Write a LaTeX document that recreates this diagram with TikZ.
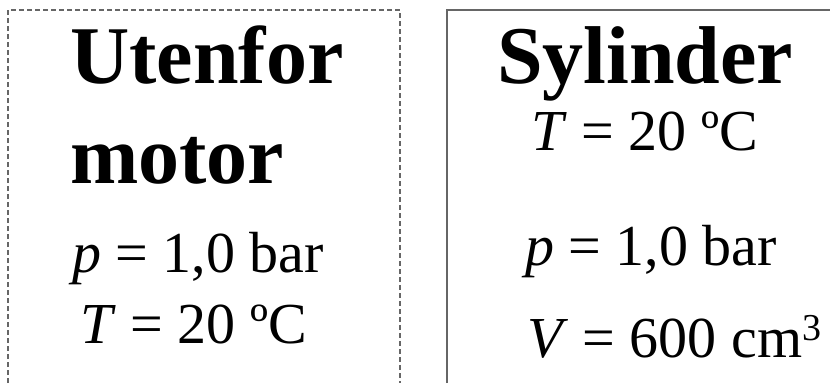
\documentclass[tikz,border=0pt]{standalone}
\usepackage{fontspec}
\setmainfont{Liberation Serif}
\usetikzlibrary{positioning}

\newcommand{\supthree}{\raisebox{17pt}{\fontsize{38}{40}\selectfont 3}}

\tikzset{
  boxline/.style={draw=black!60, line width=2.4pt},
  head/.style={anchor=base west, inner sep=0pt, font=\fontsize{82}{90}\selectfont\bfseries},
  val/.style={anchor=base west, inner sep=0pt, font=\fontsize{58}{64}\selectfont},
}

\begin{document}
\begin{tikzpicture}[x=1pt, y=-1pt]
  \useasboundingbox (0,0) rectangle (830,383);
  % outside the engine (dashed, open at the bottom)
  \draw[boxline, dash pattern=on 5pt off 3pt] (8,383) -- (8,10) -- (400,10) -- (400,383);
  % cylinder (open at the bottom and right)
  \draw[boxline] (447,383) -- (447,10) -- (830,10);
  % left box texts
  \node[head] (ute) at (70,83) {Utenfor};
  \node[head] (mot) at (70,183) {motor};
  \node[val] (pute) at (72,272) {\textit{p} = 1,0 bar};
  \node[val] (tute) at (80,343) {\textit{T} = 20 ºC};
  % right box texts
  \node[head] (syl) at (497,83) {Sylinder};
  \node[val] (tsyl) at (531,150) {\textit{T} = 20 ºC};
  \node[val] (psyl) at (525,265) {\textit{p} = 1,0 bar};
  \node[val] (vsyl) at (527,357) {\textit{V} = 600 cm\supthree};
\end{tikzpicture}
\end{document}
